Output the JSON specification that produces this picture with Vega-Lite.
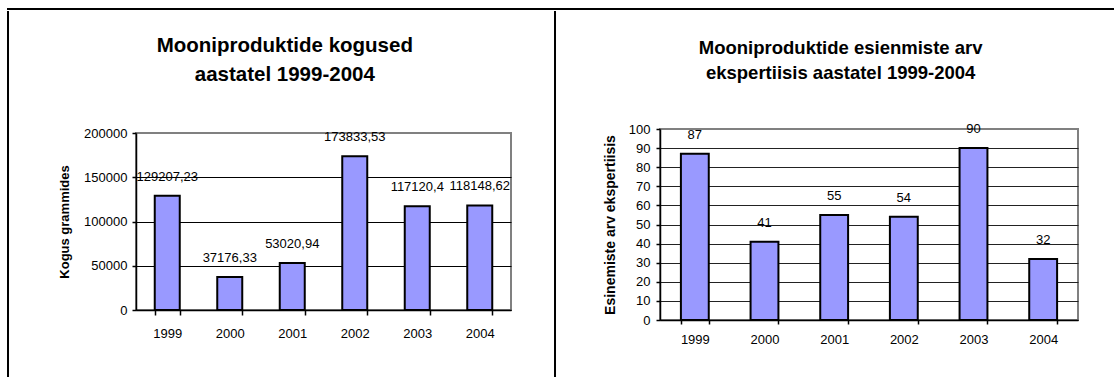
{
  "$schema": "https://vega.github.io/schema/vega-lite/v6.json",
  "background": "white",
  "padding": {"left": 7, "top": 8, "right": 0, "bottom": 0},
  "config": {
    "font": "Liberation Sans",
    "view": {"stroke": null},
    "locale": {"number": {"decimal": ",", "thousands": " ", "grouping": [3], "currency": ["", ""]}}
  },
  "datasets": {
    "mass": [
      {"year": "1999", "grams": 129207.23},
      {"year": "2000", "grams": 37176.33},
      {"year": "2001", "grams": 53020.94},
      {"year": "2002", "grams": 173833.53},
      {"year": "2003", "grams": 117120.4},
      {"year": "2004", "grams": 118148.62}
    ],
    "count": [
      {"year": "1999", "cases": 87},
      {"year": "2000", "cases": 41},
      {"year": "2001", "cases": 55},
      {"year": "2002", "cases": 54},
      {"year": "2003", "cases": 90},
      {"year": "2004", "cases": 32}
    ]
  },
  "spacing": 0,
  "vconcat": [
    {
      "width": 1105, "height": 0.01,
      "view": {"stroke": "black", "strokeWidth": 2},
      "data": {"values": []},
      "mark": "point"
    },
    {
      "spacing": 42,
      "hconcat": [
        {
          "spacing": 47,
          "hconcat": [
            {
              "width": 0.01, "height": 365,
              "view": {"stroke": "black", "strokeWidth": 2},
              "data": {"values": []},
              "mark": "point"
            },
            {
              "spacing": 0,
              "vconcat": [
                {"width": 0.01, "height": 22, "data": {"values": []}, "mark": "point"},
                {
                  "data": {"name": "mass"},
                  "width": 375, "height": 177,
                  "view": {"stroke": "#808080", "strokeWidth": 2},
                  "title": {"text": ["Mooniproduktide kogused", "aastatel 1999-2004"], "fontSize": 20.5, "fontWeight": "bold", "lineHeight": 29, "offset": 42, "color": "black", "anchor": "middle", "frame": "bounds"},
                  "encoding": {
                    "x": {"field": "year", "type": "ordinal", "scale": {"paddingInner": 0.6, "paddingOuter": 0.3},
                      "axis": {"title": null, "labelAngle": 0, "tickBand": "extent", "tickSize": 5, "labelPadding": 12, "labelFontSize": 13, "labelColor": "black", "domainColor": "black", "tickColor": "black", "domainWidth": 1.5, "tickWidth": 1.5}},
                    "y": {"field": "grams", "type": "quantitative", "scale": {"domain": [0, 200000], "nice": false},
                      "axis": {"title": "Kogus grammides", "values": [0, 50000, 100000, 150000, 200000], "format": "d", "labelFontSize": 13, "labelColor": "black", "labelPadding": 5, "tickSize": 4, "tickColor": "black", "domainColor": "black", "domainWidth": 1.5, "tickWidth": 1.5,
                        "gridColor": {"condition": {"test": "datum.value === 200000", "value": "#808080"}, "value": "black"}, "gridWidth": 1,
                        "titleFontSize": 13, "titleFontWeight": "bold", "titleColor": "black", "titlePadding": 12}}
                  },
                  "layer": [
                    {"mark": {"type": "bar", "fill": "#9999FF", "stroke": "black", "strokeWidth": 2}},
                    {"mark": {"type": "text", "baseline": "middle", "dy": -19, "fontSize": 13, "color": "black"},
                      "encoding": {"text": {"field": "grams", "type": "quantitative", "format": "~f"}}}
                  ]
                }
              ]
            }
          ]
        },
        {
          "spacing": 45,
          "hconcat": [
            {
              "width": 0.01, "height": 365,
              "view": {"stroke": "black", "strokeWidth": 2},
              "data": {"values": []},
              "mark": "point"
            },
            {
              "spacing": 0,
              "vconcat": [
                {"width": 0.01, "height": 25, "data": {"values": []}, "mark": "point"},
                {
                  "data": {"name": "count"},
                  "width": 418, "height": 191,
                  "view": {"stroke": "#808080", "strokeWidth": 2},
                  "title": {"text": ["Mooniproduktide esienmiste arv", "ekspertiisis aastatel 1999-2004"], "fontSize": 18.5, "fontWeight": "bold", "lineHeight": 25, "offset": 41, "color": "black", "anchor": "middle", "frame": "bounds"},
                  "encoding": {
                    "x": {"field": "year", "type": "ordinal", "scale": {"paddingInner": 0.6, "paddingOuter": 0.3},
                      "axis": {"title": null, "labelAngle": 0, "tickBand": "extent", "tickSize": 4, "labelPadding": 9, "labelFontSize": 13, "labelColor": "black", "domainColor": "black", "tickColor": "black", "domainWidth": 1.5, "tickWidth": 1.5}},
                    "y": {"field": "cases", "type": "quantitative", "scale": {"domain": [0, 100], "nice": false},
                      "axis": {"title": "Esinemiste arv ekspertiisis", "values": [0, 10, 20, 30, 40, 50, 60, 70, 80, 90, 100], "format": "d", "labelFontSize": 13, "labelColor": "black", "labelPadding": 6, "tickSize": 4, "tickColor": "black", "domainColor": "black", "domainWidth": 1.5, "tickWidth": 1.5,
                        "gridColor": {"condition": {"test": "datum.value === 100", "value": "#808080"}, "value": "#222222"}, "gridWidth": 1,
                        "titleFontSize": 14, "titleFontWeight": "bold", "titleColor": "black", "titlePadding": 11}}
                  },
                  "layer": [
                    {"mark": {"type": "bar", "fill": "#9999FF", "stroke": "black", "strokeWidth": 2}},
                    {"mark": {"type": "text", "baseline": "middle", "dy": -19, "fontSize": 13, "color": "black"},
                      "encoding": {"text": {"field": "cases", "type": "quantitative", "format": "d"}}}
                  ]
                }
              ]
            }
          ]
        }
      ]
    }
  ]
}
